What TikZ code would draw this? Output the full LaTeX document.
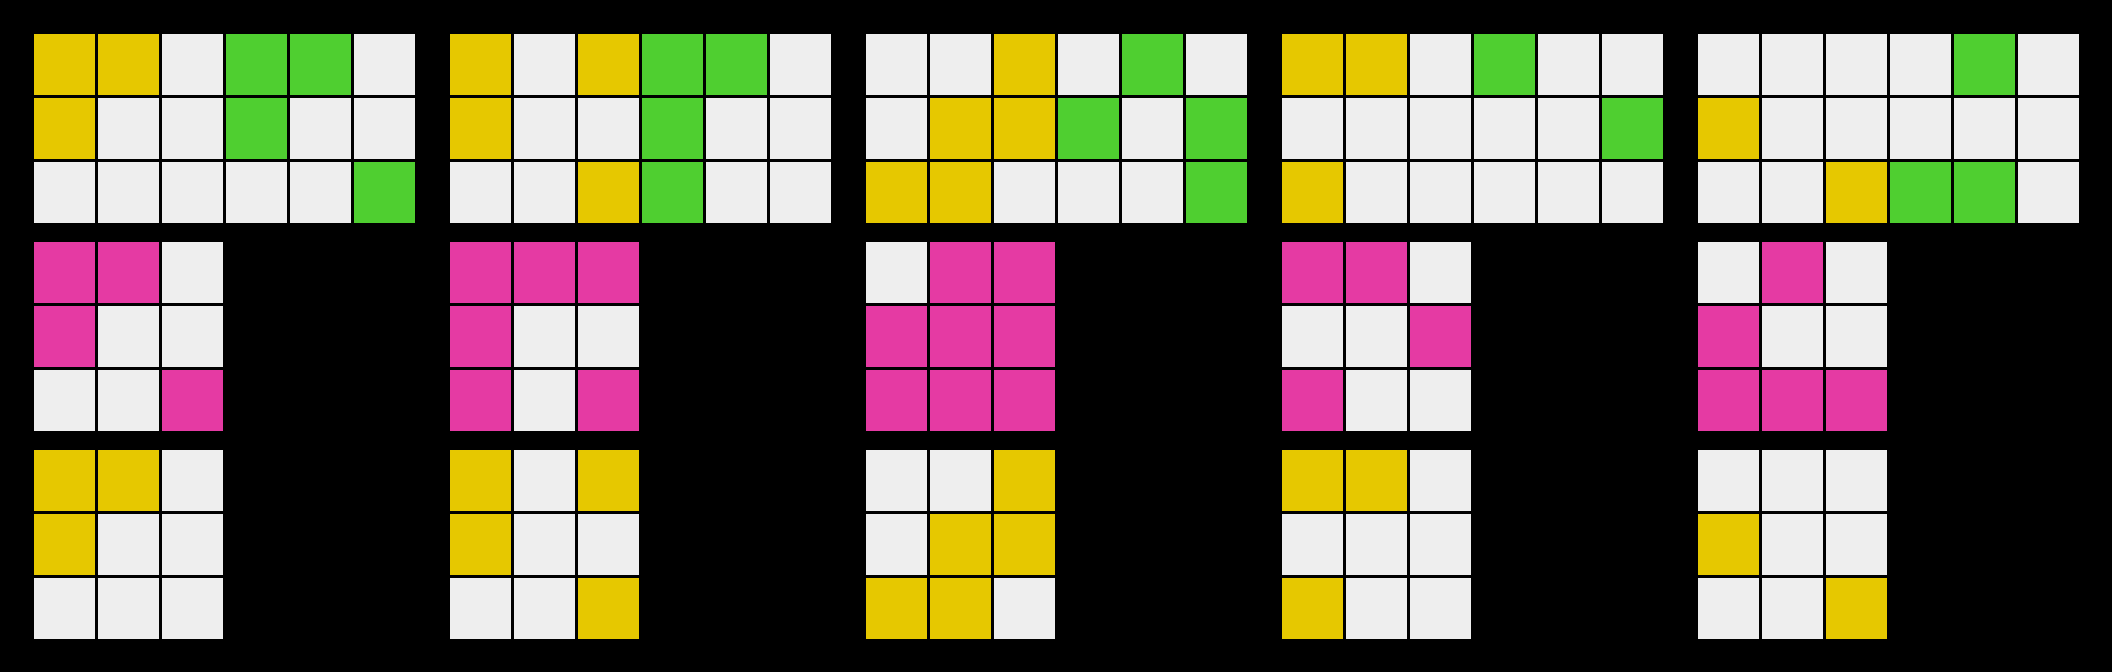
\documentclass[tikz,border=0pt]{standalone}
\usepackage{tikz}
\usepackage{xcolor}

\definecolor{cY}{RGB}{230,200,0}
\definecolor{cG}{RGB}{79,207,48}
\definecolor{cW}{RGB}{238,238,238}
\definecolor{cM}{RGB}{229,58,163}

% one grid: left, top, rows of colour letters
\newcommand{\cellgrid}[3]{%
	\foreach \row [count=\r from 0] in {#3} {
		\foreach \c [count=\k from 0] in \row {
			\fill[c\c] ({#1+64*\k},{#2+64*\r}) rectangle ++(61,61);
		}
	}%
}

\begin{document}
\begin{tikzpicture}[x=0.5pt,y=-0.5pt]
	\fill[black] (0,0) rectangle (2112,672);
	\useasboundingbox (0,0) rectangle (2112,672);
	
	% panel 1
	\cellgrid{34}{34}{{Y,Y,W,G,G,W},{Y,W,W,G,W,W},{W,W,W,W,W,G}}
	\cellgrid{34}{242}{{M,M,W},{M,W,W},{W,W,M}}
	\cellgrid{34}{450}{{Y,Y,W},{Y,W,W},{W,W,W}}
	
	% panel 2
	\cellgrid{450}{34}{{Y,W,Y,G,G,W},{Y,W,W,G,W,W},{W,W,Y,G,W,W}}
	\cellgrid{450}{242}{{M,M,M},{M,W,W},{M,W,M}}
	\cellgrid{450}{450}{{Y,W,Y},{Y,W,W},{W,W,Y}}
	
	% panel 3
	\cellgrid{866}{34}{{W,W,Y,W,G,W},{W,Y,Y,G,W,G},{Y,Y,W,W,W,G}}
	\cellgrid{866}{242}{{W,M,M},{M,M,M},{M,M,M}}
	\cellgrid{866}{450}{{W,W,Y},{W,Y,Y},{Y,Y,W}}
	
	% panel 4
	\cellgrid{1282}{34}{{Y,Y,W,G,W,W},{W,W,W,W,W,G},{Y,W,W,W,W,W}}
	\cellgrid{1282}{242}{{M,M,W},{W,W,M},{M,W,W}}
	\cellgrid{1282}{450}{{Y,Y,W},{W,W,W},{Y,W,W}}
	
	% panel 5
	\cellgrid{1698}{34}{{W,W,W,W,G,W},{Y,W,W,W,W,W},{W,W,Y,G,G,W}}
	\cellgrid{1698}{242}{{W,M,W},{M,W,W},{M,M,M}}
	\cellgrid{1698}{450}{{W,W,W},{Y,W,W},{W,W,Y}}
\end{tikzpicture}
\end{document}
